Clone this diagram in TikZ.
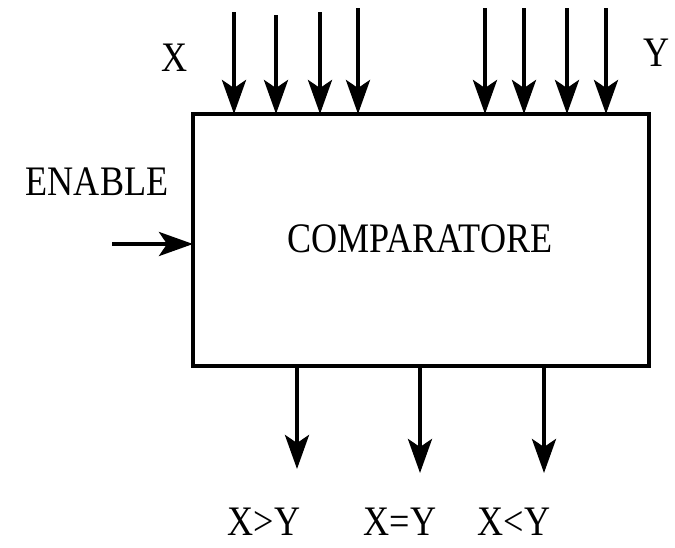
\documentclass[tikz,border=0pt]{standalone}
\usepackage{fontspec}
\setmainfont{Liberation Serif}[FakeStretch=0.86]
\usetikzlibrary{arrows.meta}
\begin{document}
\begin{tikzpicture}[x=1pt,y=-1pt,
  lbl/.style={font=\fontsize{42}{48}\selectfont, inner sep=0pt},
  arr/.style={line width=4pt, -{Stealth[length=34pt,width=24pt,inset=8pt]}},
  blk/.style={draw, line width=4pt, outer sep=0pt, inner sep=0pt,
    minimum width=456pt, minimum height=252pt}]
\useasboundingbox (0,0) rectangle (675,547);
\node[blk] (box) at (421,240) {};
\node[lbl] (cmp) at (420,239) {COMPARATORE};
\node[lbl] (lx) at (175,58) {X};
\node[lbl] (ly) at (657,53) {Y};
\node[lbl] (len) at (97,182) {ENABLE};
\node[lbl] (lgt) at (264,522) {X>Y};
\node[lbl] (leq) at (400,522) {X=Y};
\node[lbl] (llt) at (514,522) {X<Y};
% top inputs
\coordinate (t1) at (234,12);
\coordinate (t2) at (276,15);
\coordinate (t3) at (320,12);
\coordinate (t4) at (358,8);
\coordinate (t5) at (485,8);
\coordinate (t6) at (524,8);
\coordinate (t7) at (567,8);
\coordinate (t8) at (606,8);
\foreach \i in {1,...,8} \draw[arr] (t\i) -- (t\i |- box.north);
% enable
\coordinate (en) at (112,244);
\draw[arr] (en) -- (en -| box.west);
% outputs
\coordinate (o1) at (297,469);
\coordinate (o2) at (420,473);
\coordinate (o3) at (544,473);
\foreach \i in {1,2,3} \draw[arr] (o\i |- box.south) -- (o\i);
\end{tikzpicture}
\end{document}
